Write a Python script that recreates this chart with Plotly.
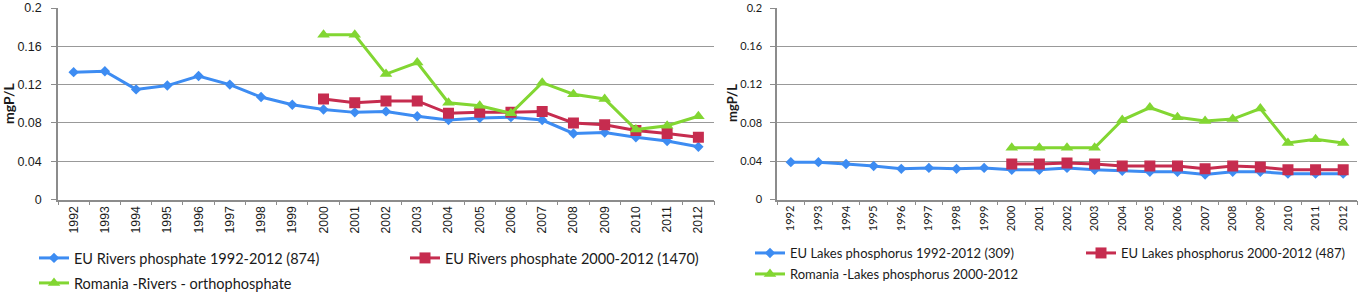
import plotly.graph_objects as go

years = [str(y) for y in range(1992, 2013)]
years_2000 = [str(y) for y in range(2000, 2013)]

rivers_eu_1992 = [0.133, 0.134, 0.115, 0.119, 0.129, 0.120, 0.107, 0.099, 0.094, 0.091, 0.092,
                  0.087, 0.083, 0.085, 0.086, 0.083, 0.069, 0.070, 0.065, 0.061, 0.055]
rivers_eu_2000 = [0.105, 0.101, 0.103, 0.103, 0.090, 0.091, 0.091, 0.092, 0.080, 0.078, 0.072, 0.069, 0.065]
rivers_romania = [0.172, 0.172, 0.131, 0.143, 0.101, 0.098, 0.090, 0.122, 0.110, 0.105, 0.073, 0.077, 0.087]

lakes_eu_1992 = [0.039, 0.039, 0.037, 0.035, 0.032, 0.033, 0.032, 0.033, 0.031, 0.031, 0.033,
                 0.031, 0.030, 0.029, 0.029, 0.026, 0.029, 0.029, 0.027, 0.027, 0.027]
lakes_eu_2000 = [0.037, 0.037, 0.038, 0.037, 0.035, 0.035, 0.035, 0.032, 0.035, 0.034, 0.031, 0.031, 0.031]
lakes_romania = [0.054, 0.054, 0.054, 0.054, 0.083, 0.096, 0.086, 0.082, 0.084, 0.095, 0.059, 0.063, 0.059]

names = {
    "r1": "EU Rivers phosphate 1992-2012 (874)",
    "r2": "EU Rivers phosphate 2000-2012 (1470)",
    "r3": "Romania -Rivers - orthophosphate",
    "l1": "EU Lakes phosphorus 1992-2012 (309)",
    "l2": "EU Lakes phosphorus 2000-2012 (487)",
    "l3": "Romania -Lakes phosphorus 2000-2012",
}

BLUE = "#3d8cf2"
RED = "#c62c4f"
GREEN = "#82d632"

W, H = 1358, 292


def px_x(p):
    return p / W


def px_y(p):
    return 1 - p / H


fig = go.Figure()

series = [
    (years, rivers_eu_1992, names["r1"], BLUE, "diamond", 8, "x", "y", "legend"),
    (years_2000, rivers_eu_2000, names["r2"], RED, "square", 11, "x", "y", "legend2"),
    (years_2000, rivers_romania, names["r3"], GREEN, "triangle-up", 11, "x", "y", "legend3"),
    (years, lakes_eu_1992, names["l1"], BLUE, "diamond", 8, "x2", "y2", "legend4"),
    (years_2000, lakes_eu_2000, names["l2"], RED, "square", 11, "x2", "y2", "legend5"),
    (years_2000, lakes_romania, names["l3"], GREEN, "triangle-up", 11, "x2", "y2", "legend6"),
]

for xs, ys, nm, col, sym, sz, xa, ya, lg in series:
    fig.add_trace(go.Scatter(
        x=xs, y=ys, name=nm, mode="lines+markers",
        line=dict(color=col, width=3),
        marker=dict(symbol=sym, size=sz, color=col, line=dict(width=0)),
        xaxis=xa, yaxis=ya, legend=lg, showlegend=True,
    ))

ydom = [px_y(199.5), px_y(8)]
axis_col = "#8c8c8c"

common_x = dict(
    type="category", categoryorder="array", categoryarray=years,
    range=[-0.5, 20.5], tickson="boundaries", ticks="outside", ticklen=4,
    tickcolor=axis_col, showline=True, linecolor=axis_col, linewidth=1.5,
    showgrid=False, tickangle=-90, zeroline=False, automargin=False,
)
common_y = dict(
    range=[0, 0.2], tickvals=[0, 0.04, 0.08, 0.12, 0.16, 0.2],
    ticktext=["0", "0.04", "0.08", "0.12", "0.16", "0.2"],
    ticks="outside", ticklen=5, tickcolor=axis_col, showline=True,
    linecolor=axis_col, linewidth=1.5, showgrid=True, gridcolor="#999999",
    gridwidth=1.2, zeroline=False, domain=ydom, automargin=False,
)

fig.update_layout(
    width=W, height=H, autosize=False, showlegend=True,
    margin=dict(l=0, r=0, t=0, b=0, autoexpand=False),
    paper_bgcolor="white", plot_bgcolor="white",
    xaxis=dict(common_x, domain=[px_x(58), px_x(714)], anchor="y",
               tickfont=dict(family="Liberation Sans", size=12.3, color="#1a1a1a")),
    yaxis=dict(common_y, anchor="x", ticklabelstandoff=7,
               tickfont=dict(family="Liberation Sans", size=12.5, color="#1a1a1a")),
    xaxis2=dict(common_x, domain=[px_x(777), px_x(1357)], anchor="y2",
                tickfont=dict(family="Lato", size=11, color="#1a1a1a")),
    yaxis2=dict(common_y, anchor="x2", ticklabelstandoff=6,
                tickfont=dict(family="Lato", size=11, color="#1a1a1a")),
    annotations=[
        dict(text="<b>mgP/L</b>", x=px_x(9), y=px_y(103), xref="paper", yref="paper",
             xanchor="center", yanchor="middle",
             textangle=-90, showarrow=False, font=dict(family="Lato", size=14, color="#1a1a1a")),
        dict(text="<b>mgP/L</b>", x=px_x(732), y=px_y(103), xref="paper", yref="paper",
             xanchor="center", yanchor="middle",
             textangle=-90, showarrow=False, font=dict(family="Lato", size=13, color="#1a1a1a")),
    ],
)

legend_pos = {
    "legend": (42, 258, 14.5),
    "legend2": (413, 258, 14.5),
    "legend3": (42, 283, 14.5),
    "legend4": (758, 253, 13),
    "legend5": (1089, 253, 13),
    "legend6": (758, 274, 13),
}
for key, (lx, ly, fs) in legend_pos.items():
    fig.update_layout({key: dict(
        x=px_x(lx - 8), y=px_y(ly), xanchor="left", yanchor="middle",
        xref="paper", yref="paper", bgcolor="rgba(0,0,0,0)",
        borderwidth=0, itemwidth=30, orientation="h",
        font=dict(family="Lato", size=fs, color="#1a1a1a"),
        itemclick=False, itemdoubleclick=False,
    )})

fig.write_html(
    "out.html",
    config={"displayModeBar": False},
    post_script="document.body.style.margin='0';document.body.style.padding='0';",
)
